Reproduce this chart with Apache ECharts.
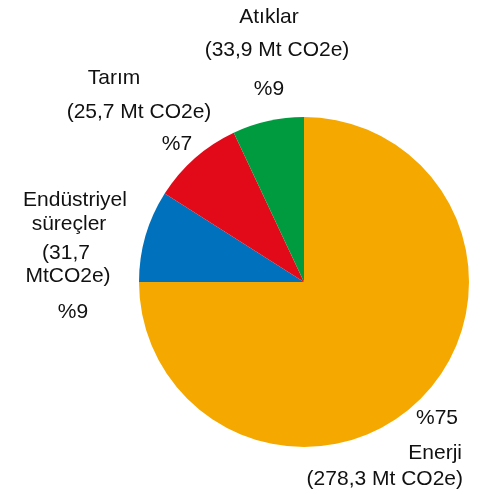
<!DOCTYPE html>
<html>
<head>
<meta charset="utf-8">
<script src="https://cdn.jsdelivr.net/npm/echarts@6/dist/echarts.min.js"></script>
<style>
html,body{margin:0;padding:0;background:#fff;}
#chart{width:482px;height:495px;}
</style>
</head>
<body>
<div id="chart"></div>
<script>
// Data
const categories = ['Enerji', 'Endüstriyel süreçler', 'Tarım', 'Atıklar'];
const emissions = ['278,3', '31,7', '25,7', '33,9']; // Mt CO2e
const shares = [75, 9, 9, 7]; // slice sizes as drawn (%)
const shareLabels = ['%75', '%9', '%7', '%9'];
const colors = ['#F5A800', '#0071BC', '#E20A18', '#009B3F'];

// Label lines per category (text built from data arrays)
const labelLines = [
  [shareLabels[0], categories[0], '(' + emissions[0] + ' Mt CO2e)'],
  ['Endüstriyel', 'süreçler', '(' + emissions[1], 'MtCO2e)', shareLabels[1]],
  [categories[2], '(' + emissions[2] + ' Mt CO2e)', shareLabels[2]],
  [categories[3], '(' + emissions[3] + ' Mt CO2e)', shareLabels[3]]
];
// Label placement (layout only)
const labelPos = [
  [[437, 418, 'center'], [462, 453, 'right'], [463, 479, 'right']],
  [[75, 200, 'center'], [69, 224, 'center'], [66, 253, 'center'], [68, 276, 'center'], [73, 312, 'center']],
  [[114, 78, 'center'], [139, 112, 'center'], [177, 144, 'center']],
  [[269, 17, 'center'], [277, 50, 'center'], [269, 89, 'center']]
];

const graphics = [];
labelLines.forEach((lines, i) => {
  lines.forEach((t, j) => {
    const p = labelPos[i][j];
    graphics.push({
      type: 'text', x: p[0], y: p[1], silent: true,
      style: { text: t, fill: '#111111', font: '21px "Liberation Sans", Arial, sans-serif',
               align: p[2], verticalAlign: 'middle' }
    });
  });
});

const chart = echarts.init(document.getElementById('chart'), null, {renderer: 'canvas'});
chart.setOption({
  animation: false,
  color: colors,
  graphic: graphics,
  series: [{
    type: 'pie',
    center: [304, 282],
    radius: [0, 165],
    startAngle: 90,
    clockwise: true,
    label: { show: false },
    labelLine: { show: false },
    itemStyle: { borderWidth: 0 },
    emphasis: { disabled: true },
    data: categories.map((c, i) => ({ name: c, value: shares[i] }))
  }]
});
</script>
</body>
</html>
